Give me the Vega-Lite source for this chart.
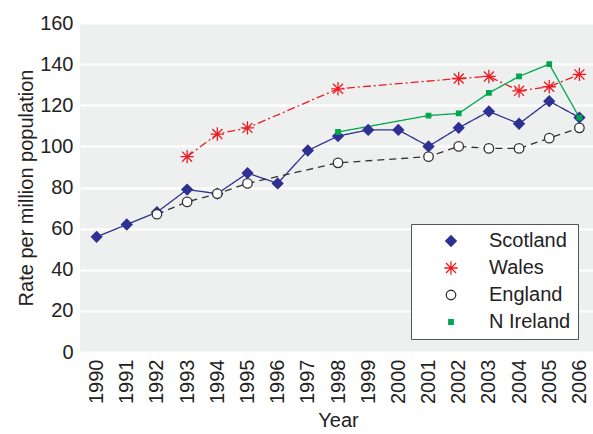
{
  "$schema": "https://vega.github.io/schema/vega-lite/v6.json",
  "width": 516,
  "height": 329,
  "autosize": "none",
  "padding": {"left": 80, "top": 23, "right": 0, "bottom": 82},
  "background": "white",
  "config": {
    "font": "Liberation Sans",
    "view": {"fill": "#eef0ef", "stroke": null},
    "legend": {"labelFontSize": 20, "labelColor": "#222", "labelFont": "Liberation Sans"}
  },
  "data": {"values": [
    {"year": "1990", "region": "Scotland", "value": 56},
    {"year": "1991", "region": "Scotland", "value": 62},
    {"year": "1992", "region": "Scotland", "value": 68},
    {"year": "1993", "region": "Scotland", "value": 79},
    {"year": "1994", "region": "Scotland", "value": 77},
    {"year": "1995", "region": "Scotland", "value": 87},
    {"year": "1996", "region": "Scotland", "value": 82},
    {"year": "1997", "region": "Scotland", "value": 98},
    {"year": "1998", "region": "Scotland", "value": 105},
    {"year": "1999", "region": "Scotland", "value": 108},
    {"year": "2000", "region": "Scotland", "value": 108},
    {"year": "2001", "region": "Scotland", "value": 100},
    {"year": "2002", "region": "Scotland", "value": 109},
    {"year": "2003", "region": "Scotland", "value": 117},
    {"year": "2004", "region": "Scotland", "value": 111},
    {"year": "2005", "region": "Scotland", "value": 122},
    {"year": "2006", "region": "Scotland", "value": 114},
    {"year": "1993", "region": "Wales", "value": 95},
    {"year": "1994", "region": "Wales", "value": 106},
    {"year": "1995", "region": "Wales", "value": 109},
    {"year": "1998", "region": "Wales", "value": 128},
    {"year": "2002", "region": "Wales", "value": 133},
    {"year": "2003", "region": "Wales", "value": 134},
    {"year": "2004", "region": "Wales", "value": 127},
    {"year": "2005", "region": "Wales", "value": 129},
    {"year": "2006", "region": "Wales", "value": 135},
    {"year": "1992", "region": "England", "value": 67},
    {"year": "1993", "region": "England", "value": 73},
    {"year": "1994", "region": "England", "value": 77},
    {"year": "1995", "region": "England", "value": 82},
    {"year": "1998", "region": "England", "value": 92},
    {"year": "2001", "region": "England", "value": 95},
    {"year": "2002", "region": "England", "value": 100},
    {"year": "2003", "region": "England", "value": 99},
    {"year": "2004", "region": "England", "value": 99},
    {"year": "2005", "region": "England", "value": 104},
    {"year": "2006", "region": "England", "value": 109},
    {"year": "1998", "region": "N Ireland", "value": 107},
    {"year": "2001", "region": "N Ireland", "value": 115},
    {"year": "2002", "region": "N Ireland", "value": 116},
    {"year": "2003", "region": "N Ireland", "value": 126},
    {"year": "2004", "region": "N Ireland", "value": 134},
    {"year": "2005", "region": "N Ireland", "value": 140},
    {"year": "2006", "region": "N Ireland", "value": 114}
  ]},
  "encoding": {
    "x": {"field": "year", "type": "ordinal", "scale": {"type": "point", "padding": 0.55},
      "axis": {"title": "Year", "labelAngle": -90, "labelPadding": 7, "titlePadding": 7, "grid": false, "domain": false, "ticks": false, "labelFontSize": 20, "titleFontSize": 20, "labelColor": "#222", "titleColor": "#222", "titleFontWeight": "normal", "labelFont": "Liberation Sans", "titleFont": "Liberation Sans"}},
    "y": {"field": "value", "type": "quantitative", "scale": {"domain": [0, 160]},
      "axis": {"title": "Rate per million population", "values": [0, 20, 40, 60, 80, 100, 120, 140, 160], "labelPadding": 7, "titlePadding": 3, "grid": true, "gridColor": "white", "gridWidth": 2, "domain": false, "ticks": false, "labelFontSize": 20, "titleFontSize": 20, "labelColor": "#222", "titleColor": "#222", "titleFontWeight": "normal", "labelFont": "Liberation Sans", "titleFont": "Liberation Sans"}}
  },
  "layer": [
    {
      "mark": {"type": "line", "strokeWidth": 1.3},
      "encoding": {
        "detail": {"field": "region", "type": "nominal"},
        "stroke": {"field": "region", "type": "nominal", "scale": {"domain": ["Scotland", "Wales", "England", "N Ireland"], "range": ["#2e3192", "#ed1c24", "#333333", "#00a651"]}, "title": null,
          "legend": {"orient": "none", "legendX": 331, "legendY": 201, "fillColor": "white", "strokeColor": "#555", "padding": 7, "rowPadding": 7, "labelFontSize": 20, "labelColor": "#222", "symbolOffset": 23, "labelOffset": 28, "symbolStrokeWidth": 1.3}},
        "strokeDash": {"condition": [{"test": "datum.region === 'Wales'", "value": [8, 3, 2, 3]}, {"test": "datum.region === 'England'", "value": [7, 5]}], "value": [1, 0]}
      }
    },
    {
      "mark": {"type": "point", "filled": false, "opacity": 1, "strokeWidth": 1.3},
      "encoding": {
        "stroke": {"field": "region", "type": "nominal", "title": null},
        "fill": {"field": "region", "type": "nominal", "title": null, "scale": {"domain": ["Scotland", "Wales", "England", "N Ireland"], "range": ["#2e3192", "#ed1c24", "white", "#00a651"]}},
        "shape": {"field": "region", "type": "nominal", "title": null, "scale": {"domain": ["Scotland", "Wales", "England", "N Ireland"], "range": ["diamond", "M-1,0L1,0M0,-1L0,1M-0.75,-0.75L0.75,0.75M-0.75,0.75L0.75,-0.75", "circle", "square"]}},
        "size": {"field": "region", "type": "nominal", "title": null, "scale": {"type": "ordinal", "domain": ["Scotland", "Wales", "England", "N Ireland"], "range": [110, 180, 90, 20]}}
      }
    }
  ]
}
